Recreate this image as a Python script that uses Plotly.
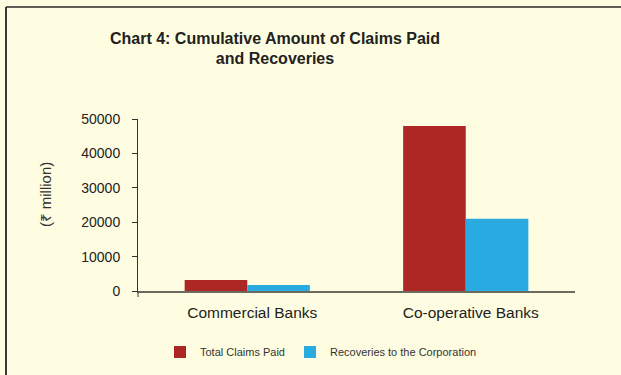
import plotly.graph_objects as go

categories = ["Commercial Banks", "Co-operative Banks"]
total_claims_paid = [3200, 48000]
recoveries = [1750, 21000]
series_names = ["Total Claims Paid", "Recoveries to the Corporation"]
y_ticks = [0, 10000, 20000, 30000, 40000, 50000]
y_title = "(₹ million)"

RED = "#AD2825"
BLUE = "#29ABE2"
BG = "#FFFDE1"
FONT = "Liberation Sans, Arial, Noto Sans, DejaVu Sans, sans-serif"

W, H = 621, 375
L, R, T, B = 138, 46, 119, 84
pw, ph = W - L - R, H - T - B

def px_x(p):
    return (p - L) / pw

def px_y(p):
    return (H - B - p) / ph

fig = go.Figure()
fig.add_trace(go.Bar(x=categories, y=total_claims_paid, name=series_names[0],
                     marker=dict(color=RED, line=dict(width=0))))
fig.add_trace(go.Bar(x=categories, y=recoveries, name=series_names[1],
                     marker=dict(color=BLUE, line=dict(width=0))))

fig.update_layout(
    width=W, height=H,
    margin=dict(l=L, r=R, t=T, b=B, pad=0),
    paper_bgcolor=BG, plot_bgcolor=BG,
    font=dict(family=FONT, color="#222222"),
    barmode="group", bargap=0.427, bargroupgap=0,
    title=dict(
        text="<b>Chart 4: Cumulative Amount of Claims Paid<br>and Recoveries</b>",
        x=275 / W, xref="container", xanchor="center",
        y=1 - 43.5 / H, yref="container", yanchor="middle",
        font=dict(size=16, color="#222222", family=FONT),
    ),
    showlegend=True,
    legend=dict(
        orientation="h", x=321 / W, xref="container", xanchor="center",
        y=1 - 352 / H, yref="container", yanchor="middle",
        font=dict(size=11, color="#333333"), bgcolor="rgba(0,0,0,0)",
        itemwidth=30, traceorder="normal",
    ),
    xaxis=dict(
        showline=True, linecolor="#6b6b60", linewidth=1.5,
        ticks="", showgrid=False, zeroline=False,
        tickfont=dict(size=15.5, color="#222222"),
        ticklabelstandoff=7, ticklabelshift=5,
    ),
    yaxis=dict(
        range=[0, 50000], tickvals=y_ticks, ticktext=[str(v) for v in y_ticks],
        showline=True, linecolor="#333333", linewidth=1,
        ticks="outside", ticklen=5, tickcolor="#333333", tickwidth=1,
        showgrid=False, zeroline=False,
        tickfont=dict(size=14, color="#222222"),
        ticklabelstandoff=9,
    ),
    annotations=[
        dict(text=y_title, xref="paper", yref="paper", x=px_x(45), y=px_y(195),
             xanchor="center", yanchor="middle", textangle=-90, showarrow=False,
             font=dict(size=15, color="#333333")),
    ],
    shapes=[
        # frame border (top and left)
        dict(type="line", xref="paper", yref="paper", x0=px_x(6), x1=px_x(640),
             y0=px_y(7), y1=px_y(7), line=dict(color="#5e5e55", width=2)),
        dict(type="line", xref="paper", yref="paper", x0=px_x(6), x1=px_x(6),
             y0=px_y(7), y1=px_y(400), line=dict(color="#3a3a35", width=2)),
        # y-axis extension below zero
        dict(type="line", xref="paper", yref="paper", x0=0, x1=0,
             y0=0, y1=px_y(297), line=dict(color="#333333", width=1)),
    ],
)

fig.write_html("out.html")
